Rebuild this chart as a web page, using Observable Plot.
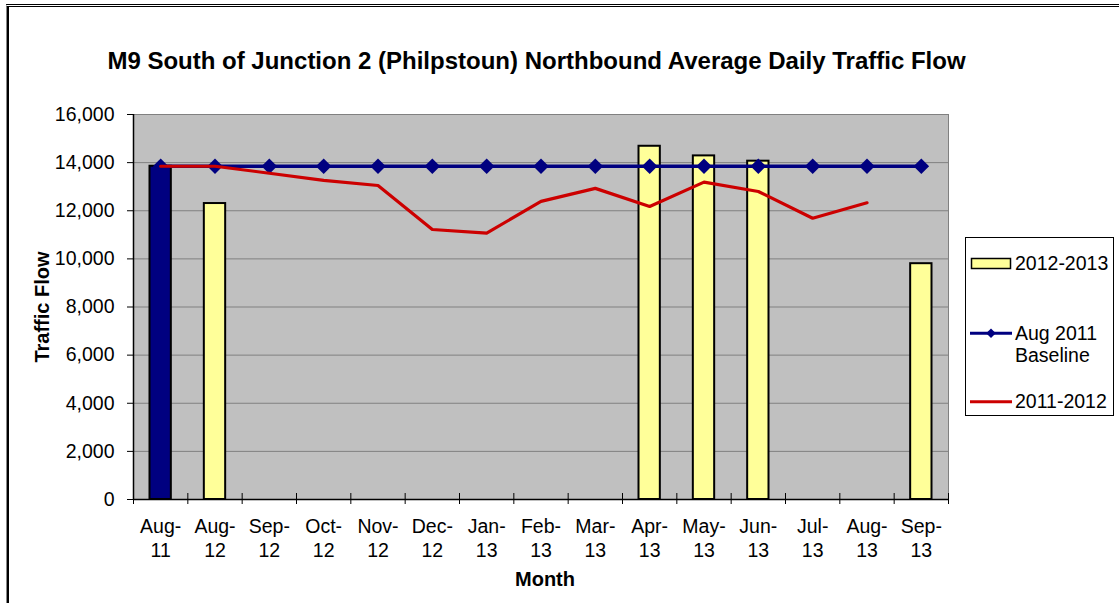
<!DOCTYPE html>
<html>
<head>
<meta charset="utf-8">
<script src="https://cdn.jsdelivr.net/npm/d3@7"></script>
<script src="https://cdn.jsdelivr.net/npm/@observablehq/plot@0.6"></script>
<style>
  html, body { margin: 0; padding: 0; background: #fff; }
  #wrap { position: relative; width: 1119px; height: 603px; overflow: hidden; background: #fff;
          font-family: "Liberation Sans", Arial, sans-serif; color: #000; }
  #wrap svg.plot { position: absolute; left: 0; top: 0; display: block; }
  .abs { position: absolute; white-space: nowrap; }
</style>
</head>
<body>
<div id="wrap">
  <div class="abs" style="left:6px;top:4px;width:1113px;height:600px;border-top:3px double #000;border-left:1px solid #888;box-sizing:border-box;"></div>
  <div class="abs" style="left:7px;top:6px;width:2px;height:597px;background:#000;"></div>
</div>
<script>
// ---- data ----
const months = ["Aug-11","Aug-12","Sep-12","Oct-12","Nov-12","Dec-12","Jan-13","Feb-13","Mar-13","Apr-13","May-13","Jun-13","Jul-13","Aug-13","Sep-13"];
const flow2012_13 = [13850, 12300, null, null, null, null, null, null, null, 14680, 14280, 14060, null, null, 9800];
const baselineAug2011 = [13850, 13850, 13850, 13850, 13850, 13850, 13850, 13850, 13850, 13850, 13850, 13850, 13850, 13850, 13850];
const flow2011_12 = [13850, 13850, 13560, 13260, 13050, 11220, 11070, 12390, 12930, 12180, 13190, 12800, 11690, 12330, null];
const baselineMonth = "Aug-11";
const yTicks = [0, 2000, 4000, 6000, 8000, 10000, 12000, 14000, 16000];

const title = "M9 South of Junction 2 (Philpstoun) Northbound Average Daily Traffic Flow";
const yTitle = "Traffic Flow";
const xTitle = "Month";
const legendItems = ["2012-2013", "Aug 2011 Baseline", "2011-2012"];

// ---- colours ----
const navy = "#000080", yellow = "#ffff99", red = "#cc0000";

// ---- tables ----
const barData = months.map((m, i) => ({i, month: m, value: flow2012_13[i]})).filter(d => d.value != null);
const baseData = months.map((m, i) => ({i, month: m, value: baselineAug2011[i]}));
const redData = months.map((m, i) => ({i, month: m, value: flow2011_12[i]})).filter(d => d.value != null);

const font = "'Liberation Sans', Arial, sans-serif";

const chart = Plot.plot({
  width: 1119,
  height: 603,
  marginLeft: 133,
  marginRight: 171,
  marginTop: 114,
  marginBottom: 104,
  style: {fontFamily: font, background: "transparent", color: "#000", overflow: "visible"},
  x: {type: "linear", domain: [0, months.length], axis: null},
  y: {domain: [0, 16000], axis: null},
  color: {type: "identity"},
  marks: [
    Plot.frame({fill: "#c0c0c0", stroke: "#808080"}),
    Plot.gridY(yTicks, {stroke: "#808080", strokeOpacity: 1, strokeWidth: 1}),
    Plot.rectY(barData, {
      x1: d => d.i, x2: d => d.i + 1, y1: d => 0, y2: "value",
      insetLeft: 16.5, insetRight: 16.5,
      fill: d => d.month === baselineMonth ? navy : yellow,
      stroke: "#000", strokeWidth: 2
    }),
    Plot.line(baseData, {x: d => d.i + 0.5, y: "value", stroke: navy, strokeWidth: 3.5}),
    Plot.dot(baseData, {x: d => d.i + 0.5, y: "value", symbol: "diamond2", r: 7, fill: navy, stroke: "none"}),
    Plot.line(redData, {x: d => d.i + 0.5, y: "value", stroke: red, strokeWidth: 3.2, strokeLinejoin: "round"}),
    Plot.ruleX([0], {stroke: "#000", strokeWidth: 1.5}),
    Plot.ruleY([0], {stroke: "#000", strokeWidth: 1.5}),
    Plot.axisY(yTicks, {tickSize: 6, tickPadding: 13, tickFormat: d3.format(","), fontSize: 19.5, label: null, stroke: "#000", fill: "#000"}),
    Plot.ruleX(d3.range(months.length + 1), {x: d => d, y1: d => 0, y2: d => 0, insetTop: -6, insetBottom: -5, stroke: "#000", strokeWidth: 1}),
    Plot.text(months, {
      x: (d, i) => i + 0.5, text: d => d.replace("-", "-\n"),
      frameAnchor: "bottom", dy: 16, lineAnchor: "top", lineHeight: 1.23,
      fontSize: 19.5, fill: "#000"
    })
  ]
});
const wrap = document.getElementById("wrap");
wrap.appendChild(chart);

// titles
function addText(txt, css) {
  const d = document.createElement("div");
  d.className = "abs";
  d.textContent = txt;
  d.style.cssText += css;
  wrap.appendChild(d);
  return d;
}
addText(title, "left:536.5px;top:60.5px;transform:translate(-50%,-50%);font-size:24px;font-weight:bold;line-height:24px;");
addText(yTitle, "left:42px;top:306.5px;transform:translate(-50%,-50%) rotate(-90deg);font-size:20px;font-weight:bold;line-height:20px;");
addText(xTitle, "left:545px;top:579px;transform:translate(-50%,-50%);font-size:20px;font-weight:bold;line-height:20px;");

// legend
const ns = "http://www.w3.org/2000/svg";
const lg = document.createElementNS(ns, "svg");
lg.setAttribute("width", 150);
lg.setAttribute("height", 180);
lg.style.cssText = "position:absolute;left:965px;top:237px;overflow:visible;";
lg.innerHTML = `
  <rect x="0.5" y="0.5" width="148" height="178" fill="#fff" stroke="#000" stroke-width="1"/>
  <rect x="6.5" y="21.5" width="39" height="10" fill="${yellow}" stroke="#000" stroke-width="1.5"/>
  <text x="50" y="26.5" dy="0.35em" font-family="${font}" font-size="19.5" fill="#000">${legendItems[0]}</text>
  <line x1="5" x2="47" y1="96.3" y2="96.3" stroke="${navy}" stroke-width="3"/>
  <path d="M26,91.5 L30.8,96.3 L26,101.1 L21.2,96.3 Z" fill="${navy}"/>
  <text x="50" y="96" dy="0.35em" font-family="${font}" font-size="19.5" fill="#000">Aug 2011</text>
  <text x="50" y="118" dy="0.35em" font-family="${font}" font-size="19.5" fill="#000">Baseline</text>
  <line x1="5" x2="47" y1="164.7" y2="164.7" stroke="${red}" stroke-width="3"/>
  <text x="50" y="164" dy="0.35em" font-family="${font}" font-size="19.5" fill="#000">${legendItems[2]}</text>
`;
wrap.appendChild(lg);
</script>
</body>
</html>
